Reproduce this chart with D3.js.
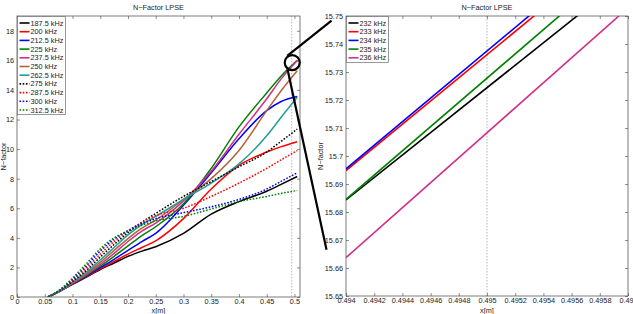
<!DOCTYPE html>
<html>
<head>
<meta charset="utf-8">
<script src="https://cdn.jsdelivr.net/npm/d3@7"></script>
<style>
  body { margin: 0; background: #fff; }
  svg { display: block; font-family: "Liberation Sans", Arial, sans-serif; }
</style>
</head>
<body>
<svg id="chart" width="633" height="314"></svg>
<script>
// ---- data ----
const xGrid = [0.056, 0.08, 0.1, 0.125, 0.15, 0.175, 0.2, 0.225, 0.25, 0.3, 0.35, 0.4, 0.45, 0.475, 0.505];

const freqLabels = ["187.5 kHz", "200 kHz", "212.5 kHz", "225 kHz", "237.5 kHz", "250 kHz",
                    "262.5 kHz", "275 kHz", "287.5 kHz", "300 kHz", "312.5 kHz"];

const nFactor = [
  [0, 0.45, 0.85, 1.35, 1.85, 2.3, 2.75, 3.1, 3.4, 4.3, 5.6, 6.45, 7.15, 7.6, 8.15],
  [0, 0.45, 0.88, 1.38, 1.9, 2.4, 2.9, 3.35, 3.8, 5.3, 7.3, 8.9, 9.8, 10.15, 10.5],
  [0, 0.45, 0.9, 1.42, 1.98, 2.55, 3.15, 3.75, 4.3, 6.2, 8.4, 10.7, 12.6, 13.2, 13.55],
  [0, 0.46, 0.92, 1.46, 2.08, 2.75, 3.45, 4.15, 4.75, 6.3, 8.7, 11.5, 13.8, 14.9, 16.0],
  [0, 0.46, 0.94, 1.52, 2.2, 2.95, 3.75, 4.45, 5.0, 6.5, 8.5, 11.0, 13.4, 14.7, 16.0],
  [0, 0.47, 0.97, 1.6, 2.35, 3.15, 3.95, 4.65, 5.2, 6.6, 8.0, 9.9, 12.6, 13.9, 15.3],
  [0, 0.48, 1.0, 1.68, 2.5, 3.35, 4.2, 4.9, 5.45, 6.6, 7.7, 9.0, 10.9, 12.1, 13.5],
  [0, 0.5, 1.05, 1.8, 2.7, 3.55, 4.35, 5.05, 5.65, 6.8, 7.8, 8.8, 9.8, 10.5, 11.35],
  [0, 0.52, 1.12, 1.95, 2.9, 3.75, 4.45, 5.05, 5.5, 6.0, 6.8, 7.7, 8.7, 9.25, 9.9],
  [0, 0.55, 1.2, 2.1, 3.1, 3.9, 4.5, 4.95, 5.3, 5.7, 6.1, 6.6, 7.3, 7.8, 8.4],
  [0, 0.58, 1.28, 2.25, 3.25, 4.0, 4.45, 4.85, 5.15, 5.45, 5.95, 6.45, 6.8, 7.0, 7.2]
];

const seriesColors = ["#000000", "#ff0000", "#0000ff", "#008000", "#d02f8a", "#b0643a",
                      "#1f9e9a", "#000000", "#ff0000", "#0000ff", "#008000"];
const seriesDotted = [false, false, false, false, false, false, false, true, true, true, true];

// zoomed panel: straight segments between x = 0.494 and 0.496
const zoomX = [0.494, 0.496];
const zoomLabels = ["232 kHz", "233 kHz", "234 kHz", "235 kHz", "236 kHz"];
const zoomN = [
  [15.6843, 15.7645],
  [15.6948, 15.7776],
  [15.6954, 15.7796],
  [15.6845, 15.7711],
  [15.6637, 15.7529]
];
const zoomColors = ["#000000", "#ff0000", "#0000ff", "#008000", "#d02f8a"];

const leftXTicks = [0, 0.05, 0.1, 0.15, 0.2, 0.25, 0.3, 0.35, 0.4, 0.45, 0.5];
const leftYTicks = [0, 2, 4, 6, 8, 10, 12, 14, 16, 18];
const rightXTicks = [0.494, 0.4942, 0.4944, 0.4946, 0.4948, 0.495, 0.4952, 0.4954, 0.4956, 0.4958, 0.496];
const rightYTicks = [15.65, 15.66, 15.67, 15.68, 15.69, 15.7, 15.71, 15.72, 15.73, 15.74, 15.75];

const markX = 0.495;   // dashed station line
const titleText = "N\u2212Factor LPSE";

// ---- drawing ----
const svg = d3.select("#chart");
const fontSize = 7.3;
const fmt = v => String(+v.toFixed(4));

function drawPanel(id, box, xDomain, yDomain, xTicks, yTicks) {
  const x = d3.scaleLinear().domain(xDomain).range([box.left, box.right]);
  const y = d3.scaleLinear().domain(yDomain).range([box.bottom, box.top]);
  const g = svg.append("g");

  svg.append("clipPath").attr("id", id)
    .append("rect")
    .attr("x", box.left).attr("y", box.top)
    .attr("width", box.right - box.left).attr("height", box.bottom - box.top);

  // inward ticks on all four sides
  const axes = [
    [d3.axisBottom(x), `translate(0,${box.bottom})`, true],
    [d3.axisTop(x), `translate(0,${box.top})`, false],
    [d3.axisLeft(y), `translate(${box.left},0)`, true],
    [d3.axisRight(y), `translate(${box.right},0)`, false]
  ];
  axes.forEach(([ax, tr, labelled], i) => {
    const vals = i < 2 ? xTicks : yTicks;
    ax.tickValues(vals).tickSizeInner(-3).tickSizeOuter(0).tickPadding(i < 2 ? 2 : 3)
      .tickFormat(labelled ? fmt : "");
    const a = g.append("g").attr("transform", tr).call(ax);
    a.select(".domain").remove();
    a.selectAll("line").attr("stroke", "#444").attr("stroke-width", 0.6);
    a.selectAll("text").attr("font-size", fontSize).attr("fill", "#222")
      .attr("font-family", "Liberation Sans, Arial, sans-serif");
  });

  g.append("line")
    .attr("x1", x(markX)).attr("x2", x(markX))
    .attr("y1", box.top).attr("y2", box.bottom)
    .attr("stroke", "#888").attr("stroke-width", 0.6)
    .attr("stroke-dasharray", "1.5,1.5");

  g.append("rect")
    .attr("x", box.left).attr("y", box.top)
    .attr("width", box.right - box.left).attr("height", box.bottom - box.top)
    .attr("fill", "none").attr("stroke", "#444").attr("stroke-width", 0.7);

  g.append("text")
    .attr("x", (box.left + box.right) / 2).attr("y", 10)
    .attr("text-anchor", "middle").attr("font-size", fontSize).attr("fill", "#222")
    .text(titleText);

  g.append("text")
    .attr("x", (box.left + box.right) / 2).attr("y", 312.5)
    .attr("text-anchor", "middle").attr("font-size", fontSize).attr("fill", "#222")
    .text("x[m]");

  g.append("text")
    .attr("transform", `translate(${box.ylabX},${(box.top + box.bottom) / 2}) rotate(-90)`)
    .attr("text-anchor", "middle").attr("font-size", fontSize).attr("fill", "#222")
    .text("N\u2212factor");

  return { x, y, g };
}

function drawLegend(g, x0, y0, w, labels, colors, dotted) {
  const step = 8.7;
  g.append("rect")
    .attr("x", x0).attr("y", y0)
    .attr("width", w).attr("height", labels.length * step + 2.5)
    .attr("fill", "#fff").attr("stroke", "#555").attr("stroke-width", 0.6);
  labels.forEach((lab, i) => {
    const yy = y0 + 6.5 + i * step;
    g.append("line")
      .attr("x1", x0 + 2).attr("x2", x0 + 12)
      .attr("y1", yy).attr("y2", yy)
      .attr("stroke", colors[i]).attr("stroke-width", 1.6)
      .attr("stroke-dasharray", dotted && dotted[i] ? "1.6,1.6" : null);
    g.append("text")
      .attr("x", x0 + 13).attr("y", yy + 2.5)
      .attr("font-size", fontSize).attr("fill", "#222")
      .text(lab);
  });
}

// left panel
const L = drawPanel("clipL", { left: 17, right: 300, top: 16, bottom: 297, ylabX: 6 },
  [0, 0.51], [0, 19], leftXTicks, leftYTicks);

const line = d3.line()
  .x(d => L.x(d[0])).y(d => L.y(d[1]))
  .curve(d3.curveMonotoneX);

L.g.append("g").attr("clip-path", "url(#clipL)")
  .selectAll("path")
  .data(nFactor.map((s, i) => ({ pts: s.map((v, j) => [xGrid[j], v]), i })))
  .join("path")
  .attr("d", d => line(d.pts))
  .attr("fill", "none")
  .attr("stroke", d => seriesColors[d.i])
  .attr("stroke-width", 1.5)
  .attr("stroke-dasharray", d => seriesDotted[d.i] ? "1.6,1.6" : null);

drawLegend(L.g, 17.5, 16.5, 48, freqLabels, seriesColors, seriesDotted);

// right panel
const R = drawPanel("clipR", { left: 346, right: 628, top: 16, bottom: 296, ylabX: 323 },
  [0.494, 0.496], [15.65, 15.75], rightXTicks, rightYTicks);

const zline = d3.line().x(d => R.x(d[0])).y(d => R.y(d[1]));
R.g.append("g").attr("clip-path", "url(#clipR)")
  .selectAll("path")
  .data(zoomN.map((s, i) => ({ pts: s.map((v, j) => [zoomX[j], v]), i })))
  .join("path")
  .attr("d", d => zline(d.pts))
  .attr("fill", "none")
  .attr("stroke", d => zoomColors[d.i])
  .attr("stroke-width", 1.6);

drawLegend(R.g, 346.5, 16.5, 42, zoomLabels, zoomColors, null);

// zoom annotation: circle on the left panel and two connector lines
const zc = { x: 0.496, y: 15.85 };
const ann = svg.append("g").attr("stroke", "#000").attr("stroke-width", 2.2).attr("fill", "none");
ann.append("circle").attr("cx", L.x(zc.x)).attr("cy", L.y(zc.y)).attr("r", 7.5);
ann.append("line")
  .attr("x1", L.x(0.487)).attr("y1", L.y(16.3))
  .attr("x2", L.x(0.5668)).attr("y2", L.y(18.68));
ann.append("line")
  .attr("x1", L.x(0.4875)).attr("y1", L.y(15.4))
  .attr("x2", L.x(0.5578)).attr("y2", L.y(3.19));
</script>
</body>
</html>
